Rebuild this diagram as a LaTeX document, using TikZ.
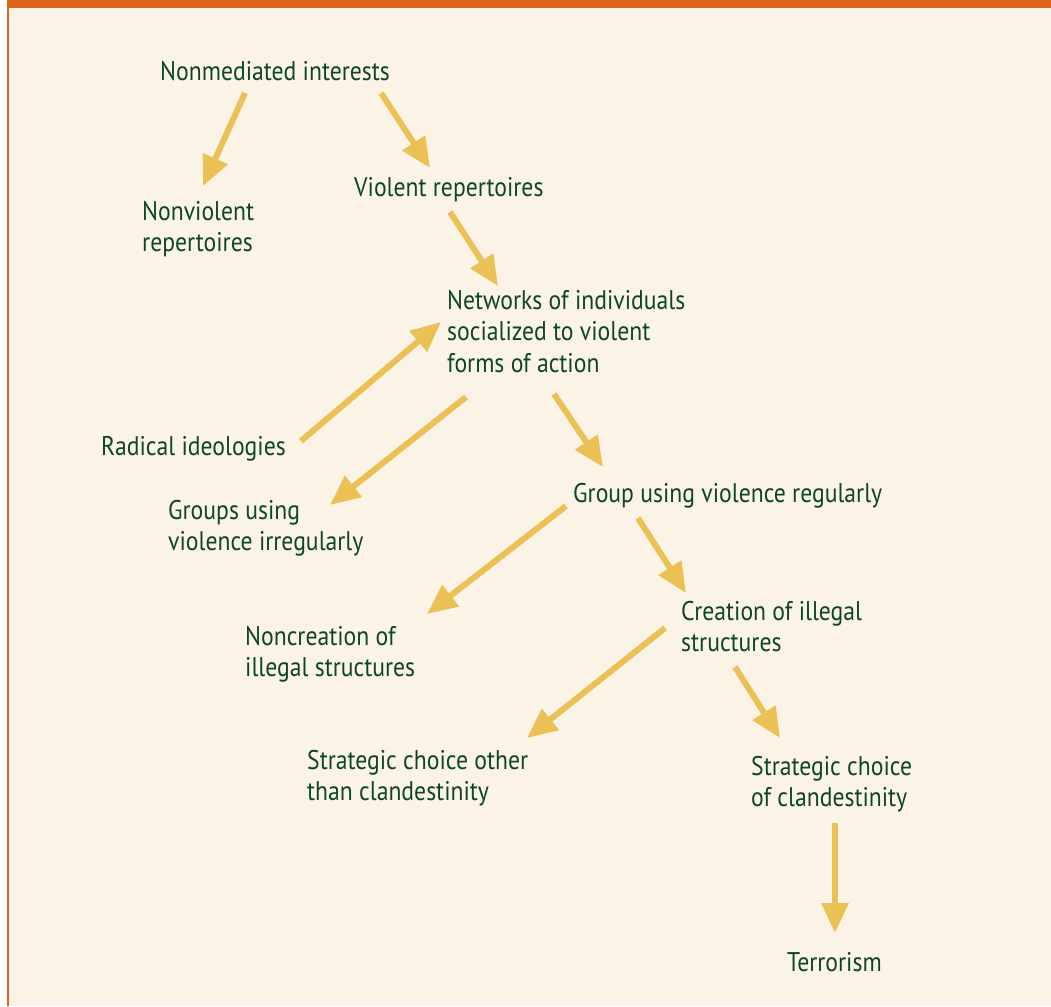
\documentclass[tikz,border=0pt]{standalone}
\usepackage{fontspec}
\setmainfont{PT Sans}[FakeStretch=0.877]
\usetikzlibrary{arrows.meta}
\definecolor{bgc}{HTML}{FCF3E7}
\definecolor{framec}{HTML}{E06320}
\definecolor{txtc}{HTML}{0C4622}
\definecolor{arrowc}{HTML}{EBC155}
\begin{document}
\begin{tikzpicture}[x=1pt,y=-1pt,
  lbl/.style={anchor=north west, inner sep=0pt, align=left, text=txtc,
    font=\fontsize{27}{31.5}\selectfont},
  arr/.style={draw=arrowc, line width=6pt, -{Triangle[width=26pt,length=30pt]}}]
\useasboundingbox (0,0) rectangle (1051,1006);
\fill[white] (0,0) rectangle (1051,1006);
\fill[bgc] (7,0) rectangle (1051,1006);
\fill[framec] (7,0) rectangle (1051,8);
\fill[framec] (7,0) rectangle (8.5,1006);
% labels (y = first baseline - 22)
\node[lbl] (nm)  at (160,58)  {Nonmediated interests\strut};
\node[lbl] (nv)  at (142,198) {Nonviolent\strut\\repertoires\strut};
\node[lbl] (vr)  at (354,174) {Violent repertoires\strut};
\node[lbl] (net) at (447,287) {Networks of individuals\strut\\socialized to violent\strut\\forms of action\strut};
\node[lbl] (rad) at (101,433) {Radical ideologies\strut};
\node[lbl] (gir) at (168,497) {Groups using\strut\\violence irregularly\strut};
\node[lbl] (gr)  at (573,480) {Group using violence regularly\strut};
\node[lbl] (nci) at (245,623) {Noncreation of\strut\\illegal structures\strut};
\node[lbl] (ci)  at (681,598) {Creation of illegal\strut\\structures\strut};
\node[lbl] (sco) at (307,747) {Strategic choice other\strut\\than clandestinity\strut};
\node[lbl] (scc) at (751,753) {Strategic choice\strut\\of clandestinity\strut};
\node[lbl] (ter) at (787,949) {Terrorism\strut};
% arrow ends
\coordinate (a1s) at (245,93);  \coordinate (a1e) at (203,186);
\coordinate (a2s) at (381,93);  \coordinate (a2e) at (430,168);
\coordinate (a3s) at (450,212); \coordinate (a3e) at (498,286);
\coordinate (a4s) at (301,441); \coordinate (a4e) at (441,322);
\coordinate (a5s) at (466,397); \coordinate (a5e) at (330,505);
\coordinate (a6s) at (554,394); \coordinate (a6e) at (603,467);
\coordinate (a7s) at (566,506); \coordinate (a7e) at (427,614);
\coordinate (a8s) at (638,518); \coordinate (a8e) at (686,593);
\coordinate (a9s) at (665,628); \coordinate (a9e) at (527,738);
\coordinate (a10s) at (735,667); \coordinate (a10e) at (780,738);
\coordinate (a11s) at (835,823); \coordinate (a11e) at (835,933);
\foreach \i in {1,...,11} {\draw[arr] (a\i s) -- (a\i e);}
\end{tikzpicture}
\end{document}
